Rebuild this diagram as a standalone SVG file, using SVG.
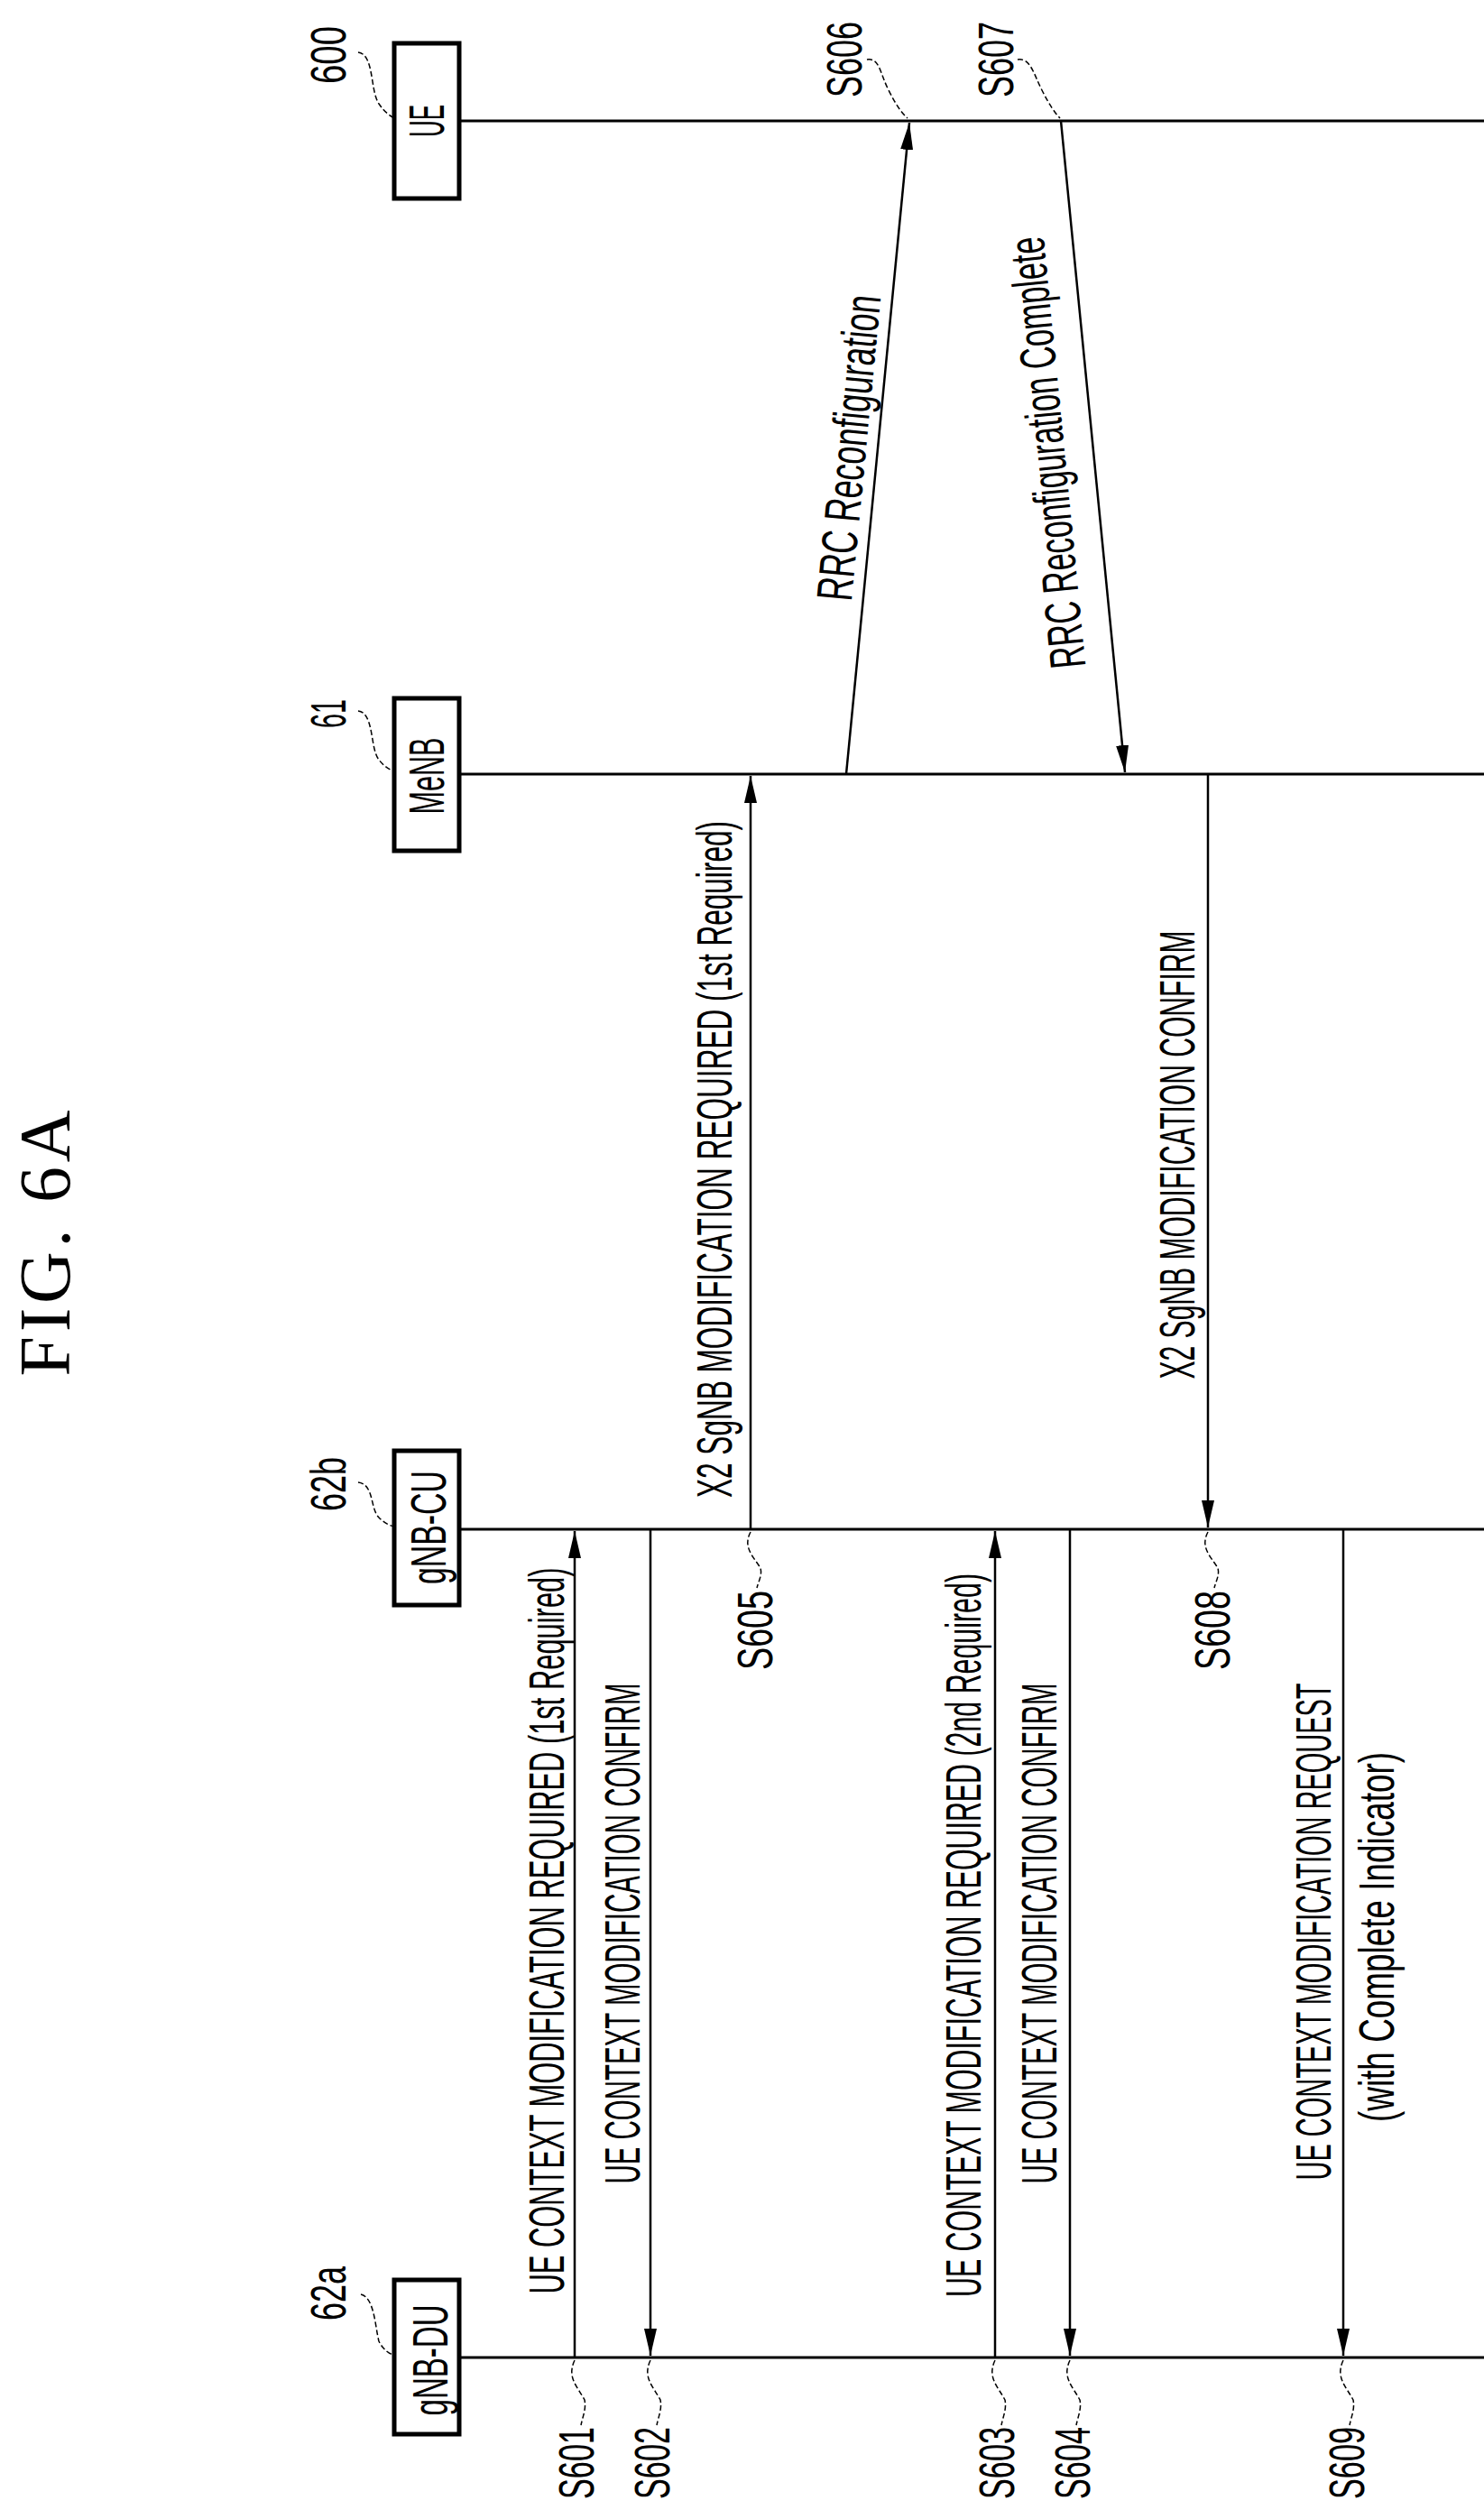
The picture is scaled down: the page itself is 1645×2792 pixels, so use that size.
<svg xmlns="http://www.w3.org/2000/svg" width="1645" height="2792" viewBox="0 0 1645 2792">
<style>
text{font-family:"Liberation Sans",Arial,sans-serif;fill:#000;text-anchor:middle}
.t{font-size:56px}
.fig{font-family:"Liberation Serif","Times New Roman",serif;font-size:80px}
.ll{stroke:#000;stroke-width:3;fill:none}
.msg{stroke:#000;stroke-width:2.5;fill:none}
.box{stroke:#000;stroke-width:5;fill:#fff}
.lead{stroke:#000;stroke-width:1.5;fill:none;stroke-dasharray:6 3}
</style>
<defs>
<marker id="ah" viewBox="0 0 30 14" refX="30" refY="7" markerWidth="30" markerHeight="14" markerUnits="userSpaceOnUse" orient="auto">
<path d="M0,0 L30,7 L0,14 Z" fill="#000"/>
</marker>
</defs>
<text class="fig" transform="translate(77,1378) rotate(-90)" textLength="295" lengthAdjust="spacing">FIG. 6A</text>
<g id="lifelines">
<line class="ll" x1="510" y1="134" x2="1645" y2="134"/>
<line class="ll" x1="510" y1="858" x2="1645" y2="858"/>
<line class="ll" x1="510" y1="1695" x2="1645" y2="1695"/>
<line class="ll" x1="510" y1="2613" x2="1645" y2="2613"/>
</g>
<g id="node-ue">
<rect class="box" x="437" y="48" width="72" height="172"/>
<text class="t" transform="translate(492,134) rotate(-90)" textLength="36" lengthAdjust="spacingAndGlyphs">UE</text>
<text class="t" transform="translate(383,61) rotate(-90)" textLength="64" lengthAdjust="spacingAndGlyphs">600</text>
<path class="lead" d="M397,58 C415,60 410,100 420,115 C426,124 432,128 437,131"/>
</g>
<g id="node-menb">
<rect class="box" x="437" y="774" width="72" height="169"/>
<text class="t" transform="translate(492,860) rotate(-90)" textLength="85" lengthAdjust="spacingAndGlyphs">MeNB</text>
<text class="t" transform="translate(383,791) rotate(-90)" textLength="32" lengthAdjust="spacingAndGlyphs">61</text>
<path class="lead" d="M397,788 C415,790 410,830 420,842 C426,850 432,853 437,855"/>
</g>
<g id="node-gnbcu">
<rect class="box" x="437" y="1608" width="72" height="171"/>
<text class="t" transform="translate(494,1693) rotate(-90)" textLength="126" lengthAdjust="spacingAndGlyphs">gNB-CU</text>
<text class="t" transform="translate(383,1645) rotate(-90)" textLength="60" lengthAdjust="spacingAndGlyphs">62b</text>
<path class="lead" d="M397,1643 C415,1645 410,1672 420,1682 C426,1688 432,1691 437,1692"/>
</g>
<g id="node-gnbdu">
<rect class="box" x="437" y="2527" width="72" height="171"/>
<text class="t" transform="translate(496,2616) rotate(-90)" textLength="123" lengthAdjust="spacingAndGlyphs">gNB-DU</text>
<text class="t" transform="translate(383,2542) rotate(-90)" textLength="60" lengthAdjust="spacingAndGlyphs">62a</text>
<path class="lead" d="M400,2543 C415,2546 416,2580 420,2595 C425,2605 432,2609 436,2610"/>
</g>
<g id="connectors">
<line class="msg" x1="637" y1="2613" x2="637" y2="1697" marker-end="url(#ah)"/>
<line class="msg" x1="721" y1="1695" x2="721" y2="2611" marker-end="url(#ah)"/>
<line class="msg" x1="832" y1="1695" x2="832" y2="860" marker-end="url(#ah)"/>
<line class="msg" x1="938" y1="858" x2="1008" y2="136" marker-end="url(#ah)"/>
<line class="msg" x1="1176" y1="134" x2="1247" y2="856" marker-end="url(#ah)"/>
<line class="msg" x1="1339" y1="858" x2="1339" y2="1693" marker-end="url(#ah)"/>
<line class="msg" x1="1103" y1="2613" x2="1103" y2="1697" marker-end="url(#ah)"/>
<line class="msg" x1="1186" y1="1695" x2="1186" y2="2611" marker-end="url(#ah)"/>
<line class="msg" x1="1489" y1="1695" x2="1489" y2="2611" marker-end="url(#ah)"/>
<path class="lead" d="M637,2616 C628,2635 640,2645 648,2660 C650,2670 646,2678 644,2688"/>
<path class="lead" d="M721,2616 C712,2635 724,2645 732,2660 C734,2670 730,2678 728,2688"/>
<path class="lead" d="M1103,2616 C1094,2635 1106,2645 1114,2660 C1116,2670 1112,2678 1110,2688"/>
<path class="lead" d="M1186,2616 C1177,2635 1189,2645 1197,2660 C1199,2670 1195,2678 1193,2688"/>
<path class="lead" d="M1489,2616 C1480,2635 1492,2645 1500,2660 C1502,2670 1498,2678 1496,2688"/>
<path class="lead" d="M832,1698 C823,1715 835,1725 843,1738 C845,1746 841,1752 839,1760"/>
<path class="lead" d="M1339,1698 C1330,1715 1342,1725 1350,1738 C1352,1746 1348,1752 1346,1760"/>
<path class="lead" d="M961,66 C975,64 975,80 985,100 C993,116 1000,126 1006,131"/>
<path class="lead" d="M1128,66 C1142,64 1145,80 1155,100 C1163,116 1170,126 1175,131"/>
</g>
<g id="labels">
<text class="t" transform="translate(625,2140) rotate(-90)" textLength="805" lengthAdjust="spacingAndGlyphs">UE CONTEXT MODIFICATION REQUIRED (1st Required)</text>
<text class="t" transform="translate(709,2143) rotate(-90)" textLength="555" lengthAdjust="spacingAndGlyphs">UE CONTEXT MODIFICATION CONFIRM</text>
<text class="t" transform="translate(811,1285) rotate(-90)" textLength="750" lengthAdjust="spacingAndGlyphs">X2 SgNB MODIFICATION REQUIRED (1st Required)</text>
<text class="t" transform="translate(960,498) rotate(-84.5)" textLength="340" lengthAdjust="spacingAndGlyphs">RRC Reconfiguration</text>
<text class="t" transform="translate(1180,500) rotate(-95.6)" textLength="480" lengthAdjust="spacingAndGlyphs">RRC Reconfiguration Complete</text>
<text class="t" transform="translate(1324,1280) rotate(-90)" textLength="497" lengthAdjust="spacingAndGlyphs">X2 SgNB MODIFICATION CONFIRM</text>
<text class="t" transform="translate(1087,2145) rotate(-90)" textLength="802" lengthAdjust="spacingAndGlyphs">UE CONTEXT MODIFICATION REQUIRED (2nd Required)</text>
<text class="t" transform="translate(1171,2143) rotate(-90)" textLength="555" lengthAdjust="spacingAndGlyphs">UE CONTEXT MODIFICATION CONFIRM</text>
<text class="t" transform="translate(1475,2141) rotate(-90)" textLength="551" lengthAdjust="spacingAndGlyphs">UE CONTEXT MODIFICATION REQUEST</text>
<text class="t" transform="translate(1545,2147) rotate(-90)" textLength="410" lengthAdjust="spacingAndGlyphs">(with Complete Indicator)</text>
<text class="t" transform="translate(658,2730) rotate(-90)" textLength="80" lengthAdjust="spacingAndGlyphs">S601</text>
<text class="t" transform="translate(742,2730) rotate(-90)" textLength="80" lengthAdjust="spacingAndGlyphs">S602</text>
<text class="t" transform="translate(1124,2730) rotate(-90)" textLength="80" lengthAdjust="spacingAndGlyphs">S603</text>
<text class="t" transform="translate(1208,2730) rotate(-90)" textLength="80" lengthAdjust="spacingAndGlyphs">S604</text>
<text class="t" transform="translate(1512,2730) rotate(-90)" textLength="80" lengthAdjust="spacingAndGlyphs">S609</text>
<text class="t" transform="translate(856,1807) rotate(-90)" textLength="88" lengthAdjust="spacingAndGlyphs">S605</text>
<text class="t" transform="translate(1363,1807) rotate(-90)" textLength="88" lengthAdjust="spacingAndGlyphs">S608</text>
<text class="t" transform="translate(955,66) rotate(-90)" textLength="84" lengthAdjust="spacingAndGlyphs">S606</text>
<text class="t" transform="translate(1123,66) rotate(-90)" textLength="84" lengthAdjust="spacingAndGlyphs">S607</text>
</g>
</svg>
